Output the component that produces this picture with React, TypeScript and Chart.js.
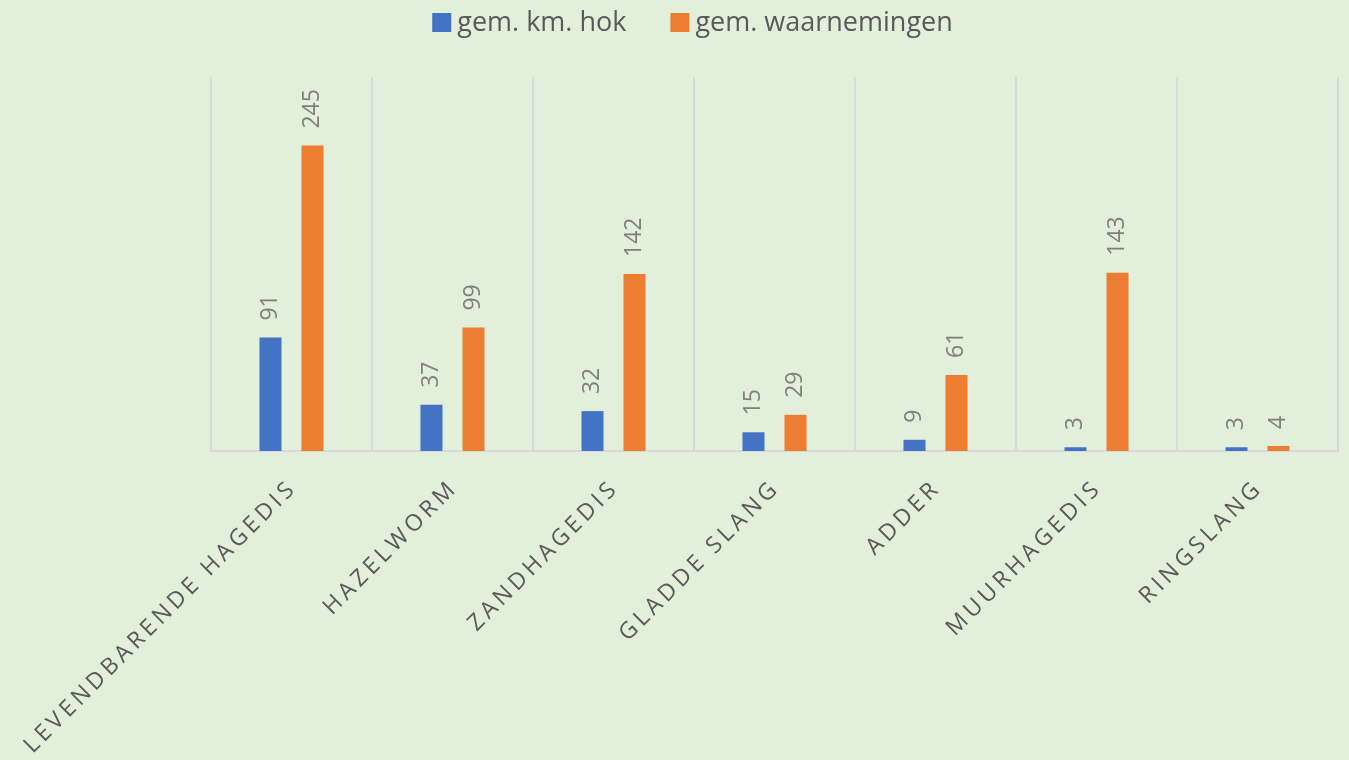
import React, { useEffect, useRef } from 'react';
import { Chart, registerables } from 'chart.js';

Chart.register(...registerables);

const categories = ['LEVENDBARENDE HAGEDIS', 'HAZELWORM', 'ZANDHAGEDIS', 'GLADDE SLANG', 'ADDER', 'MUURHAGEDIS', 'RINGSLANG'];
const kmHok = [91, 37, 32, 15, 9, 3, 3];
const waarnemingen = [245, 99, 142, 29, 61, 143, 4];
const seriesNames = ['gem. km. hok', 'gem. waarnemingen'];
const seriesColors = ['#4472C4', '#ED7D31'];
const yMin = 0;
const yMax = 300;

const FONT = '"Open Sans", sans-serif';

export default function App() {
  const ref = useRef<HTMLCanvasElement>(null);

  useEffect(() => {
    document.body.style.margin = '0';
    const canvas = ref.current;
    if (!canvas) return;

    const valueLabels = {
      id: 'valueLabels',
      afterDatasetsDraw(chart: any) {
        const ctx = chart.ctx;
        chart.data.datasets.forEach((ds: any, di: number) => {
          const meta = chart.getDatasetMeta(di);
          meta.data.forEach((el: any, i: number) => {
            ctx.save();
            ctx.translate(el.x, el.y - 17);
            ctx.rotate(-Math.PI / 2);
            ctx.font = `23px ${FONT}`;
            ctx.fillStyle = '#7F7F7F';
            ctx.textAlign = 'left';
            ctx.textBaseline = 'middle';
            ctx.fillText(String(ds.data[i]), 0, 0);
            ctx.restore();
          });
        });
      },
    };

    const xLabels = {
      id: 'xLabels',
      afterDraw(chart: any) {
        const ctx = chart.ctx;
        const xs = chart.scales.x;
        const bottom = chart.chartArea.bottom;
        const spacing = 4;
        const c = Math.SQRT1_2;
        (chart.data.labels as string[]).forEach((lab, i) => {
          const x = xs.getPixelForTick(i);
          const ex = x - 1;
          const ey = bottom + 36;
          ctx.save();
          ctx.translate(ex + spacing * c, ey - spacing * c);
          ctx.rotate(-Math.PI / 4);
          ctx.font = `23px ${FONT}`;
          (ctx as any).letterSpacing = `${spacing}px`;
          ctx.fillStyle = '#595959';
          ctx.textAlign = 'right';
          ctx.textBaseline = 'middle';
          ctx.fillText(lab, 0, 0);
          ctx.restore();
        });
      },
    };

    const legend = {
      id: 'customLegend',
      afterDraw(chart: any) {
        const ctx = chart.ctx;
        ctx.save();
        ctx.font = `27px ${FONT}`;
        const box = 19;
        const gap = 6;
        const itemGap = 44;
        const widths = seriesNames.map((n) => ctx.measureText(n).width);
        const total = widths.reduce((a, w) => a + box + gap + w, 0) + itemGap * (seriesNames.length - 1);
        let x = 692.5 - total / 2;
        const cy = 22.5;
        seriesNames.forEach((n, i) => {
          ctx.fillStyle = seriesColors[i];
          ctx.fillRect(x, cy - box / 2, box, box);
          x += box + gap;
          ctx.fillStyle = '#595959';
          ctx.textAlign = 'left';
          ctx.textBaseline = 'middle';
          ctx.fillText(n, x, cy + 1);
          x += widths[i] + itemGap;
        });
        ctx.restore();
      },
    };

    const chart = new Chart(canvas, {
      type: 'bar',
      data: {
        labels: categories,
        datasets: [
          {
            label: seriesNames[0],
            data: kmHok,
            backgroundColor: seriesColors[0],
            barPercentage: 0.524,
            categoryPercentage: 0.522,
          },
          {
            label: seriesNames[1],
            data: waarnemingen,
            backgroundColor: seriesColors[1],
            barPercentage: 0.524,
            categoryPercentage: 0.522,
          },
        ],
      },
      options: {
        animation: false,
        responsive: false,
        devicePixelRatio: 1,
        layout: { padding: { left: 211, right: 11, top: 77, bottom: 309 } },
        plugins: {
          legend: { display: false },
          tooltip: { enabled: false },
        },
        scales: {
          x: {
            grid: { offset: true, color: '#D9D9D9', lineWidth: 2, drawTicks: false },
            border: { color: '#D9D9D9', width: 2 },
            ticks: { display: false },
          },
          y: { display: false, min: yMin, max: yMax },
        },
      },
      plugins: [valueLabels, xLabels, legend],
    });

    return () => chart.destroy();
  }, []);

  return (
    <div style={{ width: 1349, height: 760, background: '#E2EFDA', overflow: 'hidden' }}>
      <canvas ref={ref} width={1349} height={760} style={{ display: 'block' }} />
    </div>
  );
}
